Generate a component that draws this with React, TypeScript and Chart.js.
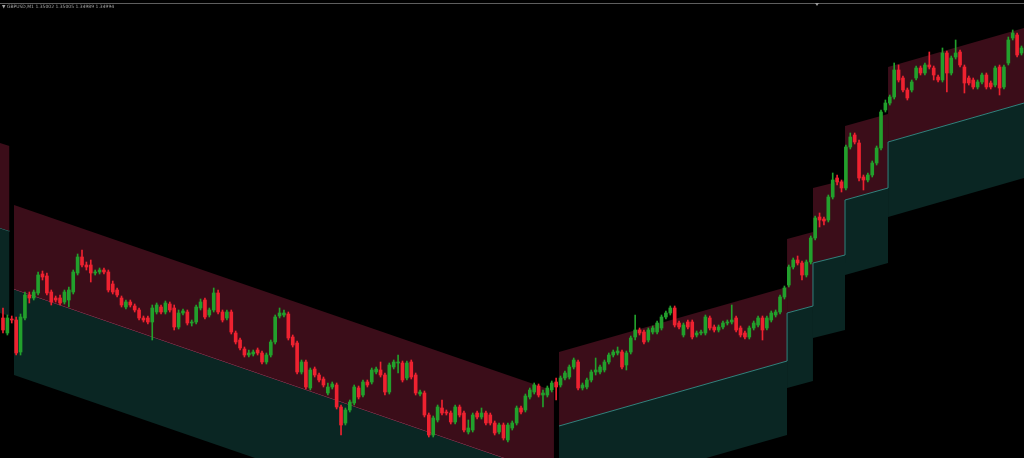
import { useEffect, useRef } from "react";
import { Chart, registerables } from "chart.js";

Chart.register(...registerables);

// Header text
const symbolLabel = "GBPUSD,M1";
const quoteLabels = ["1.35002", "1.35005", "1.34989", "1.34994"];

// Candles (M1 bars), price in points above the window's low
const opens = [
  140, 125, 139, 138, 106, 140, 163, 160, 165, 184,
  182, 166, 160, 160, 156, 158, 166, 185, 201, 193,
  193, 185, 186, 188, 186, 174, 168, 160, 151, 156,
  152, 148, 140, 140, 136, 146, 151, 146, 154, 150,
  131, 145, 146, 135, 136, 150, 158, 143, 148, 165,
  146, 140, 146, 125, 118, 109, 103, 104, 108, 105,
  96, 103, 116, 142, 143, 144, 121, 115, 86, 96,
  70, 89, 83, 79, 65, 71, 73, 51, 35, 48,
  55, 70, 63, 76, 76, 86, 88, 83, 66, 91,
  95, 95, 80, 96, 83, 64, 65, 43, 23, 38,
  50, 46, 45, 36, 51, 45, 26, 28, 45, 41,
  45, 43, 35, 26, 33, 18, 30, 35, 50, 48,
  61, 66, 72, 63, 63, 68, 76, 73, 80, 81,
  91, 96, 70, 71, 78, 86, 86, 88, 96, 103,
  105, 106, 93, 106, 121, 128, 126, 118, 126, 126,
  130, 141, 145, 150, 135, 123, 136, 136, 123, 125,
  125, 140, 131, 128, 131, 135, 136, 140, 130, 125,
  121, 130, 133, 140, 130, 138, 143, 146, 161, 173,
  191, 198, 195, 183, 196, 220, 241, 239, 238, 261,
  280, 276, 270, 311, 323, 315, 281, 278, 283, 295,
  310, 348, 355, 361, 388, 380, 368, 368, 380, 390,
  385, 393, 390, 381, 378, 405, 385, 401, 406, 391,
  380, 378, 371, 376, 383, 375, 373, 391, 371, 395,
  420, 423, 405,
];
const highs = [
  150, 143, 142, 141, 144, 166, 166, 168, 186, 187,
  185, 168, 162, 163, 168, 171, 188, 204, 208, 196,
  198, 188, 190, 190, 188, 177, 170, 162, 158, 158,
  154, 150, 142, 142, 153, 155, 153, 157, 156, 153,
  148, 149, 148, 138, 153, 159, 160, 150, 170, 168,
  148, 148, 148, 127, 120, 111, 108, 108, 110, 107,
  105, 118, 143, 150, 148, 146, 123, 117, 98, 98,
  90, 91, 85, 81, 75, 76, 75, 53, 50, 58,
  73, 72, 78, 78, 90, 91, 96, 85, 95, 98,
  103, 97, 97, 98, 85, 68, 67, 45, 42, 53,
  58, 48, 47, 53, 53, 47, 38, 45, 47, 50,
  47, 45, 37, 35, 35, 35, 37, 52, 52, 64,
  70, 75, 74, 68, 72, 77, 80, 82, 87, 93,
  100, 98, 75, 80, 88, 100, 93, 98, 105, 108,
  111, 108, 107, 122, 143, 130, 128, 130, 132, 137,
  143, 147, 152, 152, 137, 135, 138, 138, 127, 128,
  143, 142, 133, 133, 137, 138, 153, 142, 132, 127,
  132, 137, 142, 142, 142, 147, 148, 163, 172, 193,
  200, 202, 197, 198, 222, 242, 245, 241, 263, 285,
  283, 278, 313, 325, 325, 318, 283, 285, 297, 312,
  348, 358, 363, 395, 393, 382, 370, 378, 392, 392,
  395, 406, 392, 383, 410, 407, 402, 418, 408, 393,
  382, 380, 378, 385, 385, 377, 392, 393, 393, 421,
  428, 425, 412,
];
const lows = [
  125, 123, 135, 103, 103, 138, 155, 158, 163, 178,
  163, 153, 156, 153, 154, 151, 164, 183, 191, 188,
  176, 183, 184, 184, 166, 164, 161, 151, 149, 151,
  146, 138, 136, 134, 118, 144, 144, 144, 146, 128,
  129, 143, 133, 132, 134, 148, 139, 141, 146, 144,
  136, 138, 124, 114, 108, 101, 101, 102, 103, 94,
  94, 101, 114, 140, 141, 118, 111, 84, 84, 69,
  68, 81, 76, 71, 63, 69, 49, 23, 33, 46,
  53, 59, 61, 71, 74, 84, 81, 63, 64, 89,
  85, 76, 78, 79, 63, 62, 41, 21, 21, 36,
  43, 43, 34, 34, 41, 26, 24, 26, 39, 39,
  33, 33, 23, 24, 18, 16, 28, 33, 44, 46,
  59, 64, 61, 51, 61, 66, 58, 71, 78, 79,
  89, 68, 68, 69, 76, 83, 84, 86, 94, 101,
  103, 89, 88, 104, 118, 123, 114, 116, 124, 124,
  128, 139, 143, 131, 129, 121, 129, 119, 121, 123,
  123, 128, 126, 126, 129, 133, 134, 126, 121, 119,
  119, 128, 131, 118, 128, 136, 141, 144, 159, 171,
  189, 193, 178, 181, 194, 218, 231, 233, 236, 259,
  273, 266, 268, 309, 314, 277, 268, 276, 281, 293,
  308, 346, 353, 359, 376, 366, 358, 366, 378, 383,
  383, 389, 378, 376, 376, 366, 383, 399, 391, 365,
  373, 369, 369, 374, 369, 369, 371, 363, 369, 393,
  418, 401, 403,
];
const closes = [
  128, 140, 138, 105, 141, 163, 160, 166, 183, 181,
  165, 156, 158, 155, 166, 168, 186, 201, 193, 191,
  185, 186, 188, 186, 168, 166, 163, 153, 156, 153,
  148, 140, 138, 136, 150, 153, 146, 155, 148, 131,
  145, 147, 135, 136, 151, 156, 141, 148, 165, 146,
  138, 146, 126, 116, 110, 103, 105, 106, 105, 96,
  103, 116, 141, 145, 145, 120, 113, 86, 96, 71,
  88, 83, 78, 73, 71, 74, 51, 33, 48, 56,
  71, 61, 76, 73, 88, 89, 83, 66, 93, 96,
  96, 78, 95, 81, 65, 66, 43, 23, 40, 51,
  45, 45, 36, 51, 43, 28, 30, 43, 41, 45,
  35, 35, 25, 33, 20, 33, 35, 50, 46, 62,
  68, 73, 63, 65, 70, 75, 71, 80, 85, 91,
  98, 70, 73, 78, 86, 88, 91, 96, 103, 106,
  107, 91, 105, 120, 128, 125, 116, 128, 130, 135,
  141, 145, 150, 133, 131, 133, 131, 121, 125, 126,
  141, 130, 128, 131, 135, 136, 138, 128, 123, 121,
  130, 135, 140, 128, 140, 145, 146, 161, 170, 191,
  198, 195, 183, 196, 220, 240, 238, 237, 261, 278,
  276, 270, 311, 321, 316, 280, 278, 283, 295, 310,
  346, 355, 361, 388, 378, 368, 360, 376, 390, 385,
  393, 391, 383, 378, 405, 385, 400, 405, 393, 375,
  375, 371, 376, 383, 371, 371, 390, 370, 391, 418,
  425, 403, 410,
];

// Regression-channel segments (bar index at start / end, band values at each end)
const segStart = [-0.68, 2.51, 126.65, 178.6, 184.5, 191.8, 201.6];
const segEnd = [1.48, 125.5, 178.6, 184.5, 191.8, 201.6, 232.6];
const upperStart = [315, 253, 106, 219, 270, 332, 391];
const upperEnd = [312, 67, 171, 226, 278, 344, 430];
const midStart = [230, 169, 32, 145, 195, 258, 316];
const midEnd = [227, -17, 97, 152, 203, 270, 355];
const lowerStart = [145, 83, -42, 70, 120, 183, 241];
const lowerEnd = [142, -103, 23, 77, 128, 195, 280];
const midLineColor = ["#2f7d78", "#a23d5f", "", "", "", "", ""];

const BULL = "#22a02c";
const BEAR = "#ee2230";
const UPPER_FILL = "#3b0d19";
const LOWER_FILL = "#0a2623";
const BASIS_TEAL = "#31837d";
const NONE = "rgba(0,0,0,0)";

export default function App() {
  const canvasRef = useRef<HTMLCanvasElement | null>(null);

  useEffect(() => {
    const canvas = canvasRef.current;
    if (!canvas) return;

    const datasets: any[] = [];
    segStart.forEach((s, k) => {
      const e = segEnd[k];
      datasets.push({
        type: "line",
        data: [{ x: s, y: upperStart[k] }, { x: e, y: upperEnd[k] }],
        borderColor: NONE,
        borderWidth: 1,
        pointRadius: 0,
        fill: "+1",
        backgroundColor: UPPER_FILL,
        order: 5,
      });
      datasets.push({
        type: "line",
        data: [{ x: s, y: midStart[k] }, { x: e, y: midEnd[k] }],
        borderColor: midLineColor[k] || NONE,
        borderWidth: 1,
        pointRadius: 0,
        fill: "+1",
        backgroundColor: LOWER_FILL,
        order: 5,
      });
      datasets.push({
        type: "line",
        data: [{ x: s, y: lowerStart[k] }, { x: e, y: lowerEnd[k] }],
        borderColor: NONE,
        borderWidth: 1,
        pointRadius: 0,
        fill: false,
        order: 5,
      });
    });

    // continuous basis line over the stepped segments
    const basis: { x: number; y: number }[] = [];
    for (let k = 2; k < segStart.length; k++) {
      basis.push({ x: segStart[k], y: midStart[k] });
      basis.push({ x: segEnd[k], y: midEnd[k] });
    }
    datasets.push({
      type: "line",
      data: basis,
      borderColor: BASIS_TEAL,
      borderWidth: 1,
      pointRadius: 0,
      fill: false,
      order: 4,
    });

    const colors = opens.map((o, i) => (closes[i] >= o ? BULL : BEAR));
    datasets.push({
      type: "bar",
      data: opens.map((_, i) => ({ x: i, y: [lows[i], highs[i]] })),
      backgroundColor: colors,
      borderWidth: 0,
      barThickness: 1,
      grouped: false,
      order: 1,
    });
    datasets.push({
      type: "bar",
      data: opens.map((o, i) => ({ x: i, y: [o, closes[i]] })),
      backgroundColor: colors,
      borderWidth: 0,
      barThickness: 3,
      minBarLength: 1,
      grouped: false,
      order: 0,
    });

    const chart = new Chart(canvas, {
      type: "bar",
      data: { datasets },
      options: {
        animation: false,
        responsive: false,
        devicePixelRatio: 1,
        events: [],
        layout: { padding: 0 },
        plugins: {
          legend: { display: false },
          tooltip: { enabled: false },
          title: { display: false },
        },
        scales: {
          x: {
            type: "linear",
            min: -0.68,
            max: 232.57,
            offset: false,
            display: false,
          },
          y: { type: "linear", min: 0, max: 458, display: false },
        },
      } as any,
    });
    return () => chart.destroy();
  }, []);

  return (
    <div
      style={{
        position: "fixed",
        left: 0,
        top: 0,
        width: 1024,
        height: 458,
        background: "#000",
        overflow: "hidden",
      }}
    >
      <canvas
        ref={canvasRef}
        width={1024}
        height={458}
        style={{ position: "absolute", left: 0, top: 0, width: 1024, height: 458 }}
      />
      <div
        style={{
          position: "absolute",
          left: 0,
          top: 3,
          width: 1024,
          height: 1,
          background: "#5e5e5e",
        }}
      />
      <div
        style={{
          position: "absolute",
          left: 2,
          top: 5,
          fontFamily: "'DejaVu Sans', sans-serif",
          fontSize: 4.5,
          lineHeight: 1,
          color: "#a6a6a6",
          whiteSpace: "pre",
        }}
      >
        {"▼ " + symbolLabel + " " + quoteLabels.join(" ")}
      </div>
      <div
        style={{
          position: "absolute",
          left: 815,
          top: 3,
          width: 0,
          height: 0,
          borderLeft: "2px solid transparent",
          borderRight: "2px solid transparent",
          borderTop: "3px solid #9a9a9a",
        }}
      />
    </div>
  );
}
